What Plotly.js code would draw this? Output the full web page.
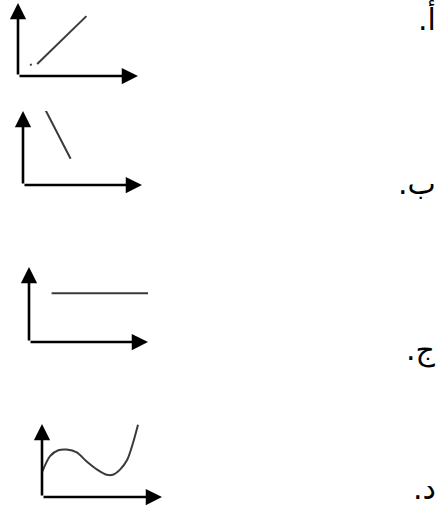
<!DOCTYPE html>
<html>
<head>
<meta charset="utf-8">
<script src="https://cdn.plot.ly/plotly-3.0.1.min.js"></script>
<style>html,body{margin:0;padding:0;background:#fff;}#chart{width:438px;height:516px;}</style>
</head>
<body>
<div id="chart"></div>
<script>
// Option labels (Arabic)
const optionLabels = ["أ.", "ب.", "ج.", "د."];

// Graph A: increasing straight line (with a small dot before it)
const aDotX = [1.0, 1.15];
const aDotY = [1.5, 1.6];
const aLineX = [1.6, 5.7];
const aLineY = [1.65, 8.2];

// Graph B: decreasing straight line
const bLineX = [1.9, 4.0];
const bLineY = [10.1, 3.55];

// Graph C: constant horizontal line
const cLineX = [1.9, 10.1];
const cLineY = [6.5, 6.5];

// Graph D: wavy curve
const dCurveX = [0.03, 0.67, 1.36, 2.06, 2.9, 3.7, 4.6, 5.4, 5.9, 6.5, 7.1, 7.6, 8.0];
const dCurveY = [3.5, 5.6, 6.4, 6.5, 6.1, 4.9, 3.75, 3.05, 3.05, 3.75, 5.1, 7.5, 9.9];

// axis extent in each small graph
const axisMax = 10;

const W = 438, H = 516;
// pixel boxes: [left, right, bottom, top] (origin corner to arrow tips)
const boxes = [[18, 138, 76, 3], [23, 142, 185, 111], [29, 148, 342, 267], [42, 162, 497, 424]];
const labelY = [18, 184, 350, 488];

const lineStyle = {color: '#3a3a3a', width: 2};
const traces = [
  {x: aDotX, y: aDotY, xaxis: 'x', yaxis: 'y', mode: 'lines', line: lineStyle},
  {x: aLineX, y: aLineY, xaxis: 'x', yaxis: 'y', mode: 'lines', line: lineStyle},
  {x: bLineX, y: bLineY, xaxis: 'x2', yaxis: 'y2', mode: 'lines', line: lineStyle},
  {x: cLineX, y: cLineY, xaxis: 'x3', yaxis: 'y3', mode: 'lines', line: lineStyle},
  {x: dCurveX, y: dCurveY, xaxis: 'x4', yaxis: 'y4', mode: 'lines', line: {color: '#3a3a3a', width: 2, shape: 'spline', smoothing: 0.8}}
];

const layout = {
  width: W, height: H,
  margin: {l: 0, r: 0, t: 0, b: 0},
  paper_bgcolor: '#fff', plot_bgcolor: 'rgba(0,0,0,0)',
  showlegend: false,
  annotations: []
};

boxes.forEach((b, i) => {
  const sfx = i === 0 ? '' : String(i + 1);
  const axOpts = {range: [0, axisMax], visible: false, fixedrange: true, showgrid: false, zeroline: false};
  layout['xaxis' + sfx] = Object.assign({}, axOpts, {domain: [b[0] / W, b[1] / W], anchor: 'y' + sfx});
  layout['yaxis' + sfx] = Object.assign({}, axOpts, {domain: [(H - b[2]) / H, (H - b[3]) / H], anchor: 'x' + sfx});
  const xr = 'x' + sfx, yr = 'y' + sfx;
  const arrow = {showarrow: true, arrowhead: 2, arrowsize: 1.25, arrowwidth: 2.6, arrowcolor: '#000', text: '',
    xref: xr, yref: yr, axref: xr, ayref: yr, standoff: 0, startstandoff: 0};
  layout.annotations.push(Object.assign({}, arrow, {x: axisMax, y: 0, ax: 0, ay: 0}));
  layout.annotations.push(Object.assign({}, arrow, {x: 0, y: axisMax, ax: 0, ay: 0}));
  layout.annotations.push({
    text: optionLabels[i] + '\u200F', showarrow: false, xref: 'paper', yref: 'paper',
    x: 1, y: (H - labelY[i]) / H, xanchor: 'right', yanchor: 'middle',
    font: {family: 'DejaVu Sans, Noto Sans, sans-serif', size: 30, color: '#000'}
  });
});

Plotly.newPlot('chart', traces, layout, {displayModeBar: false, staticPlot: true});
</script>
</body>
</html>
